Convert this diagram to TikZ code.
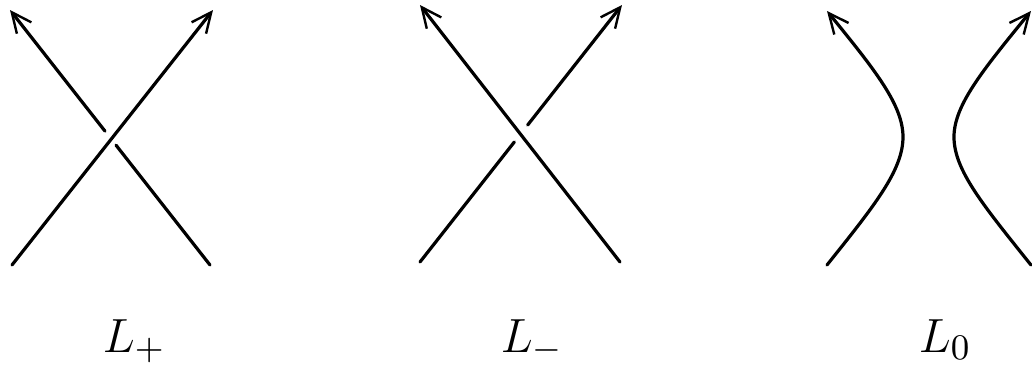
\documentclass[tikz,border=0pt]{standalone}
\usetikzlibrary{arrows.meta,calc}
\begin{document}
\begin{tikzpicture}[x=0.25pt,y=-0.25pt,
  strand/.style={line width=0.8pt,line cap=round},
  tipped/.style={-{Straight Barb[length=5pt,width=4.6pt,line width=0.6pt]}},
  crosslabel/.style={anchor=base west,inner sep=0pt,font=\fontsize{12.4}{15}\selectfont}]
\useasboundingbox (0,0) rectangle (1032,365);
% positive crossing
\coordinate (pa) at (12,265);
\coordinate (pb) at (213,10);
\coordinate (pc) at (210,265);
\coordinate (pd) at (10,10);
\draw[strand,tipped] (pa) -- (pb);
\draw[strand] (pc) -- ($(pd)!0.53!(pc)$);
\draw[strand,tipped] ($(pd)!0.475!(pc)$) -- (pd);
\node[crosslabel] (lplus) at (102,352) {$L_+$};

% negative crossing
\coordinate (ma) at (420,262);
\coordinate (mb) at (622,5);
\coordinate (mc) at (620,262);
\coordinate (md) at (420,5);
\draw[strand,tipped] (mc) -- (md);
\draw[strand] (ma) -- ($(ma)!0.467!(mb)$);
\draw[strand,tipped] ($(ma)!0.533!(mb)$) -- (mb);
\node[crosslabel] (lminus) at (500,352) {$L_-$};

% smoothing
\coordinate (za) at (827,265);
\coordinate (zb) at (827,11);
\coordinate (zc) at (1031,265);
\coordinate (zd) at (1031,11);
\draw[strand,tipped] (za) .. controls (875,205) and (903,170) .. (903,137)
  .. controls (903,105) and (875,70) .. (zb);
\draw[strand,tipped] (zc) .. controls (983,205) and (954,170) .. (954,137)
  .. controls (954,105) and (983,70) .. (zd);
\node[crosslabel] (lzero) at (918,352) {$L_0$};
\end{tikzpicture}
\end{document}
